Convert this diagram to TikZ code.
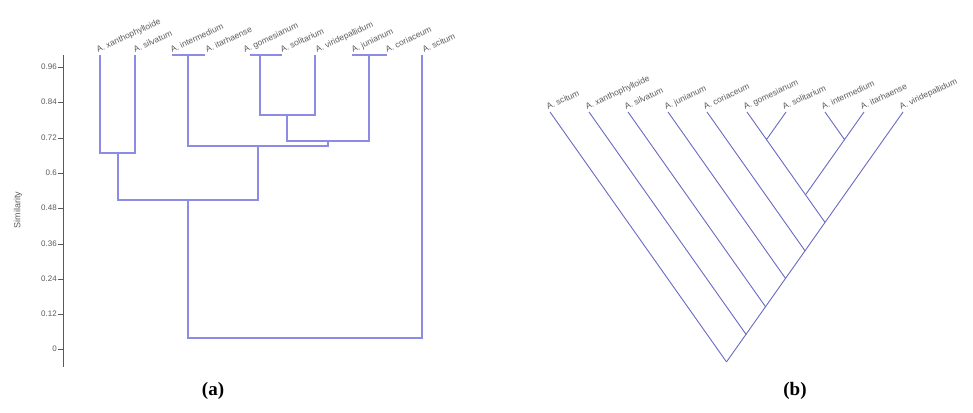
\documentclass[tikz,border=0pt]{standalone}
\usepackage{fontspec}
\newfontfamily\labfont{Liberation Sans}
\newfontfamily\capfont{Liberation Serif}
\definecolor{linea}{RGB}{140,140,228}
\definecolor{lineb}{RGB}{105,105,195}
\definecolor{txtgray}{RGB}{90,90,90}
\tikzset{
  dendA/.style={draw=linea, line width=1.2pt},
  dendB/.style={draw=lineb, line width=0.9pt},
  leaflab/.style={font=\labfont\fontsize{8.5}{9}\selectfont, text=txtgray, rotate=25, anchor=base west, inner sep=0pt},
  ticklab/.style={font=\labfont\fontsize{8}{9}\selectfont, text=txtgray, anchor=east, inner sep=1pt},
  caplab/.style={font=\capfont\bfseries\fontsize{19}{22}\selectfont, text=black},
  axisline/.style={draw=black!65, line width=0.9pt}
}
\begin{document}
\begin{tikzpicture}[x=1pt,y=-1pt]
\useasboundingbox (0,0) rectangle (973,412);
% ---------- panel (a) ----------
\coordinate (axtop) at (63,55);
\coordinate (axbot) at (63,367);
\draw[axisline] (axtop) -- (axbot);
\foreach \v/\yy in {0.96/67,0.84/102,0.72/138,0.6/173,0.48/208,0.36/244,0.24/279,0.12/314,0/349}{
  \coordinate (tk\yy) at (63,\yy);
  \coordinate (tl\yy) at (58,\yy);
  \draw[axisline, line width=0.6pt] (tk\yy) -- (tl\yy);
  \node[ticklab] (lab\yy) at (tl\yy) {\v};
}
\node[font=\labfont\fontsize{9}{10}\selectfont, text=txtgray, rotate=90] (ylab) at (18,210) {Similarity};
% leaves
\coordinate (l1) at (100,55);
\coordinate (l2) at (135,55);
\coordinate (l3) at (172,55);
\coordinate (l4) at (205,55);
\coordinate (l5) at (250,55);
\coordinate (l6) at (282,55);
\coordinate (l7) at (315,55);
\coordinate (l8) at (352,55);
\coordinate (l9) at (387,55);
\coordinate (l10) at (422,55);
% internal nodes
\coordinate (n12) at (118,153);
\coordinate (n34) at (188,55);
\coordinate (n56) at (260,55);
\coordinate (n567) at (287,115);
\coordinate (n89) at (369,55);
\coordinate (n5679) at (328,141);
\coordinate (n3479) at (258,146);
\coordinate (nA) at (188,200);
\coordinate (rootA) at (300,338);
\draw[dendA] (l1) |- (n12) -| (l2);
\draw[dendA] (l3) -- (l4);
\draw[dendA] (l5) -- (l6);
\draw[dendA] (l8) -- (l9);
\draw[dendA] (n56) |- (n567) -| (l7);
\draw[dendA] (n567) |- (n5679) -| (n89);
\draw[dendA] (n34) |- (n3479) -| (n5679);
\draw[dendA] (n12) |- (nA) -| (n3479);
\draw[dendA] (nA) |- (rootA) -| (l10);
% leaf labels (a)
\node[leaflab] (a1) at (98,53) {A. xanthophylloide};
\node[leaflab] (a2) at (135,53) {A. silvatum};
\node[leaflab] (a3) at (172,53) {A. intermedium};
\node[leaflab] (a4) at (207,53) {A. itarhaense};
\node[leaflab] (a5) at (245,53) {A. gomesianum};
\node[leaflab] (a6) at (282,53) {A. solitarium};
\node[leaflab] (a7) at (317,53) {A. viridepallidum};
\node[leaflab] (a8) at (353,53) {A. junianum};
\node[leaflab] (a9) at (387,53) {A. coriaceum};
\node[leaflab] (a10) at (424,53) {A. scitum};
\node[caplab] (capa) at (213,391) {(a)};
% ---------- panel (b) ----------
\coordinate (b1) at (550,112);
\coordinate (b2) at (589,112);
\coordinate (b3) at (628,112);
\coordinate (b4) at (668,112);
\coordinate (b5) at (707,112);
\coordinate (b6) at (747,112);
\coordinate (b7) at (786,112);
\coordinate (b8) at (825,112);
\coordinate (b9) at (864,112);
\coordinate (b10) at (903,112);
\coordinate (gs) at (766.5,139.6);
\coordinate (ii) at (844.5,139.6);
\coordinate (gsii) at (805.5,194.8);
\coordinate (gsiiv) at (825,222.4);
\coordinate (cor) at (805,250.8);
\coordinate (jun) at (785.5,278.4);
\coordinate (sil) at (765.5,306.7);
\coordinate (xan) at (746,334.3);
\coordinate (rootB) at (726.5,361.9);
\draw[dendB] (b1) -- (rootB);
\draw[dendB] (b2) -- (xan) -- (rootB);
\draw[dendB] (b3) -- (sil) -- (xan);
\draw[dendB] (b4) -- (jun) -- (sil);
\draw[dendB] (b5) -- (cor) -- (jun);
\draw[dendB] (b10) -- (gsiiv) -- (cor);
\draw[dendB] (gsii) -- (gsiiv);
\draw[dendB] (gs) -- (gsii);
\draw[dendB] (ii) -- (gsii);
\draw[dendB] (b6) -- (gs) -- (b7);
\draw[dendB] (b8) -- (ii) -- (b9);
% leaf labels (b)
\node[leaflab] (c1) at (548,110) {A. scitum};
\node[leaflab] (c2) at (587,110) {A. xanthophylloide};
\node[leaflab] (c3) at (626,110) {A. silvatum};
\node[leaflab] (c4) at (666,110) {A. junianum};
\node[leaflab] (c5) at (705,110) {A. coriaceum};
\node[leaflab] (c6) at (745,110) {A. gomesianum};
\node[leaflab] (c7) at (784,110) {A. solitarium};
\node[leaflab] (c8) at (823,110) {A. intermedium};
\node[leaflab] (c9) at (862,110) {A. itarhaense};
\node[leaflab] (c10) at (901,110) {A. viridepallidum};
\node[caplab] (capb) at (795,391) {(b)};
\end{tikzpicture}
\end{document}
